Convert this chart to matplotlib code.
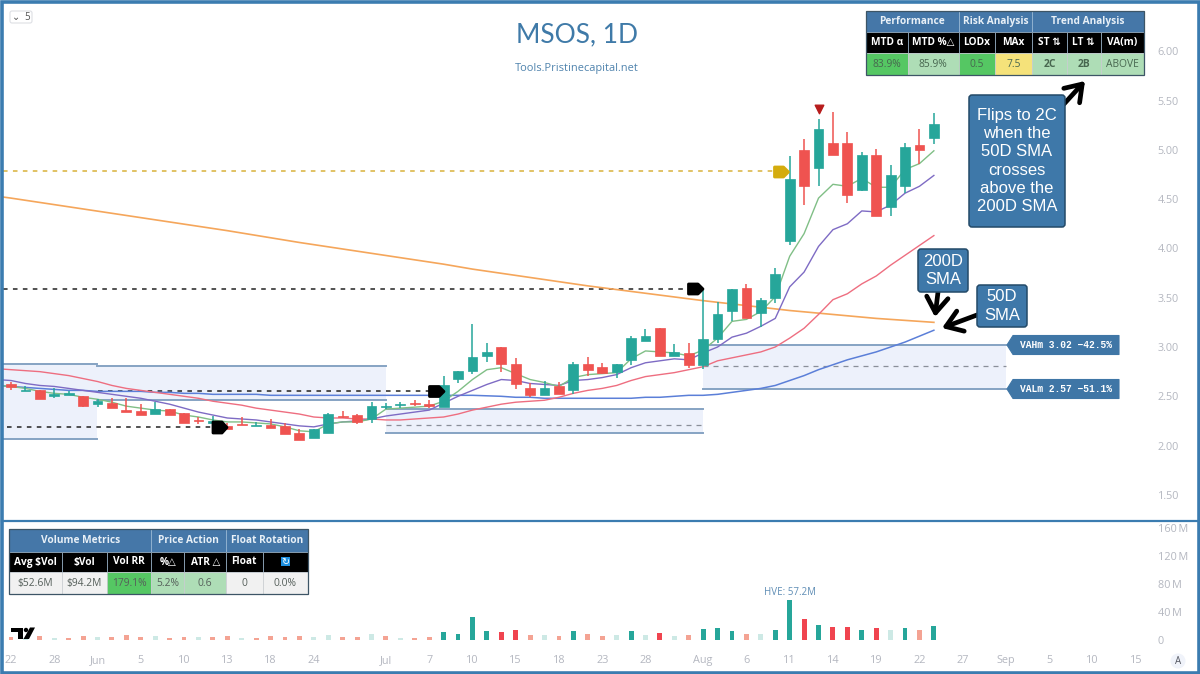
import numpy as np
import matplotlib
matplotlib.use('Agg')
import matplotlib.pyplot as plt
from matplotlib.patches import Rectangle, Polygon, FancyBboxPatch, Circle

plt.rcParams['font.family'] = ['Open Sans', 'DejaVu Sans']

# daily candles, May 22 to Aug 25
opens = [2.62, 2.55, 2.56, 2.50, 2.51, 2.50, 2.42, 2.43, 2.36, 2.35, 2.32, 2.37, 2.33, 2.26, 2.23, 2.20, 2.22, 2.20, 2.21, 2.20,
         2.13, 2.08, 2.13, 2.30, 2.31, 2.27, 2.39, 2.41, 2.43, 2.42, 2.39, 2.68, 2.76, 2.91, 3.00, 2.83, 2.58, 2.51, 2.60, 2.56,
         2.83, 2.80, 2.75, 2.87, 3.06, 3.19, 2.91, 2.94, 2.82, 3.08, 3.37, 3.60, 3.34, 3.50, 4.07, 5.00, 4.82, 5.07, 5.07, 4.59,
         4.95, 4.42, 4.63, 5.05, 5.12]
closes = [2.59, 2.56, 2.47, 2.52, 2.53, 2.40, 2.45, 2.38, 2.34, 2.31, 2.37, 2.31, 2.23, 2.25, 2.25, 2.17, 2.21, 2.21, 2.18, 2.12,
          2.06, 2.17, 2.32, 2.29, 2.24, 2.40, 2.40, 2.42, 2.42, 2.40, 2.61, 2.76, 2.90, 2.95, 2.83, 2.62, 2.51, 2.58, 2.52, 2.83,
          2.77, 2.74, 2.83, 3.09, 3.11, 2.91, 2.95, 2.82, 3.08, 3.33, 3.59, 3.29, 3.48, 3.74, 4.70, 4.63, 5.21, 4.95, 4.54, 4.95,
          4.33, 4.74, 5.03, 5.00, 5.26]
highs = [2.65, 2.60, 2.56, 2.58, 2.55, 2.50, 2.47, 2.48, 2.48, 2.42, 2.44, 2.37, 2.33, 2.29, 2.30, 2.23, 2.29, 2.24, 2.27, 2.23,
         2.17, 2.17, 2.33, 2.35, 2.32, 2.44, 2.43, 2.44, 2.46, 2.46, 2.71, 2.76, 3.23, 3.04, 3.00, 2.89, 2.63, 2.66, 2.64, 2.85,
         2.90, 2.84, 2.83, 3.11, 3.18, 3.19, 3.03, 3.04, 3.59, 3.46, 3.59, 3.64, 3.50, 3.80, 4.94, 5.11, 5.31, 5.38, 5.18, 4.98,
         5.01, 4.85, 5.07, 5.21, 5.37]
lows = [2.56, 2.55, 2.47, 2.48, 2.51, 2.39, 2.39, 2.38, 2.34, 2.31, 2.32, 2.31, 2.23, 2.22, 2.23, 2.17, 2.21, 2.20, 2.18, 2.12,
        2.06, 2.08, 2.13, 2.28, 2.22, 2.23, 2.37, 2.38, 2.40, 2.38, 2.39, 2.63, 2.73, 2.85, 2.75, 2.57, 2.49, 2.51, 2.52, 2.52,
        2.71, 2.73, 2.69, 2.82, 3.06, 2.91, 2.91, 2.79, 2.78, 3.04, 3.26, 3.29, 3.20, 3.45, 4.03, 4.44, 4.63, 4.95, 4.46, 4.58,
        4.33, 4.33, 4.56, 4.86, 5.06]

# moving averages, first value sits just left of the first candle
ema_fast = [2.61, 2.60, 2.58, 2.55, 2.53, 2.52, 2.49, 2.47, 2.44, 2.40, 2.38, 2.36, 2.35, 2.31, 2.29, 2.26, 2.24, 2.24, 2.23, 2.22, 2.19,
            2.15, 2.14, 2.22, 2.24, 2.24, 2.27, 2.37, 2.38, 2.39, 2.40, 2.45, 2.55, 2.67, 2.77, 2.79, 2.73, 2.67, 2.64, 2.60, 2.69,
            2.72, 2.73, 2.74, 2.88, 2.96, 2.95, 2.94, 2.91, 2.97, 3.09, 3.26, 3.28, 3.36, 3.51, 3.92, 4.15, 4.51, 4.65, 4.63, 4.71,
            4.62, 4.62, 4.80, 4.86, 4.99]
ema_mid = [2.67, 2.66, 2.63, 2.61, 2.60, 2.58, 2.56, 2.54, 2.52, 2.50, 2.48, 2.45, 2.42, 2.38, 2.34, 2.31, 2.28, 2.27, 2.26, 2.24, 2.22,
           2.20, 2.19, 2.22, 2.24, 2.25, 2.27, 2.30, 2.32, 2.34, 2.36, 2.43, 2.50, 2.56, 2.62, 2.67, 2.66, 2.63, 2.62, 2.61, 2.66,
           2.67, 2.69, 2.72, 2.79, 2.84, 2.86, 2.88, 2.87, 2.94, 3.00, 3.10, 3.14, 3.21, 3.29, 3.61, 3.76, 4.02, 4.19, 4.25, 4.38,
           4.37, 4.44, 4.56, 4.63, 4.74]
ema_slow = [2.78, 2.77, 2.76, 2.75, 2.73, 2.71, 2.68, 2.65, 2.61, 2.58, 2.56, 2.54, 2.52, 2.50, 2.48, 2.45, 2.43, 2.41, 2.38, 2.36, 2.34,
            2.32, 2.29, 2.28, 2.28, 2.27, 2.27, 2.26, 2.26, 2.27, 2.28, 2.29, 2.32, 2.36, 2.39, 2.42, 2.44, 2.45, 2.46, 2.49, 2.53,
            2.56, 2.58, 2.61, 2.66, 2.70, 2.72, 2.74, 2.77, 2.80, 2.86, 2.89, 2.92, 2.95, 3.00, 3.09, 3.19, 3.33, 3.48, 3.54, 3.64,
            3.72, 3.83, 3.93, 4.03, 4.13]
sma_50 = [2.61, 2.60, 2.59, 2.58, 2.57, 2.56, 2.56, 2.55, 2.55, 2.55, 2.55, 2.54, 2.54, 2.53, 2.53, 2.52, 2.52, 2.52, 2.52, 2.51, 2.51,
          2.51, 2.51, 2.51, 2.51, 2.51, 2.51, 2.51, 2.51, 2.51, 2.51, 2.51, 2.51, 2.51, 2.505, 2.50, 2.49, 2.49, 2.48, 2.48, 2.48,
          2.48, 2.48, 2.48, 2.48, 2.49, 2.49, 2.50, 2.51, 2.51, 2.52, 2.54, 2.56, 2.58, 2.61, 2.66, 2.71, 2.77, 2.82, 2.87, 2.91,
          2.95, 3.00, 3.05, 3.11, 3.17]
sma_200_idx = [-1, 0, 5, 10, 15, 20, 25, 30, 32, 40, 48, 54, 60, 64]
sma_200 = [4.53, 4.51, 4.40, 4.29, 4.18, 4.06, 3.95, 3.84, 3.79, 3.62, 3.47, 3.37, 3.29, 3.25]

# volume in millions, kind: U/D heavy up/down, u/d light up/down
volume = [3.3, 3.0, 5.2, 2.9, 1.9, 4.8, 3.3, 3.3, 6.7, 3.8, 4.8, 2.4, 3.8, 4.3, 3.3, 5.2, 2.9, 1.9, 5.2, 3.3,
          5.2, 3.8, 7.0, 3.8, 3.8, 8.0, 5.2, 1.9, 2.9, 3.8, 11.0, 8.6, 32.9, 11.9, 11.0, 14.3, 7.0, 6.2, 4.8, 12.9,
          8.6, 5.2, 6.2, 12.9, 7.0, 9.5, 5.7, 7.0, 15.2, 16.7, 11.9, 8.6, 8.0, 14.3, 57.2, 30.0, 21.4, 17.6, 17.6, 14.3,
          16.7, 13.8, 16.7, 13.3, 19.0]
vol_kind = list('dududduddduddudduddd' 'duuddududd' 'UUUUDDdudU' 'dduUuDudUU' 'UduUUDUDDU' 'DuUdU')

tick_idx = [0, 3, 6, 9, 12, 15, 18, 21, 26, 29, 32, 35, 38, 41, 44, 48, 51, 54, 57, 60, 63, 66, 69, 72, 75, 78]
tick_labels = ['22', '28', 'Jun', '5', '10', '13', '18', '24', 'Jul', '7', '10', '15', '18', '23', '28', 'Aug', '6', '11',
               '14', '19', '22', '27', 'Sep', '5', '10', '15']
price_ticks = [1.5, 2.0, 2.5, 3.0, 3.5, 4.0, 4.5, 5.0, 5.5, 6.0]
vol_ticks = [0, 40, 80, 120, 160]
vol_tick_labels = ['0', '40\u2009M', '80\u2009M', '120\u2009M', '160\u2009M']

# value area boxes: left bar, right bar, low, high
va_boxes = [(-0.6, 5.96, 2.07, 2.83), (5.96, 26, 2.46, 2.81), (26, 48, 2.13, 2.37), (48, 68.97, 2.57, 3.02)]
# mid dashes of the boxes: left bar, right bar, price
va_mids = [(26, 48, 2.21), (48, 68.97, 2.81)]
# level lines: left bar, right bar, price, colour
levels = [(-0.3, 14, 2.19, '#222222'), (6, 29.6, 2.55, '#222222'), (-0.55, 47, 3.59, '#222222'), (-0.55, 53, 4.78, '#D8B23A')]

top_groups = ['Performance', 'Risk Analysis', 'Trend Analysis']
top_heads = ['MTD α', 'MTD %△', 'LODx', 'MAx', 'ST ⇅', 'LT ⇅', 'VA(m)']
top_vals = ['83.9%', '85.9%', '0.5', '7.5', '2C', '2B', 'ABOVE']
bot_groups = ['Volume Metrics', 'Price Action', 'Float Rotation']
bot_heads = ['Avg $Vol', '$Vol', 'Vol RR', '%△', 'ATR △', 'Float', '']
bot_vals = ['$52.6M', '$94.2M', '179.1%', '5.2%', '0.6', '0', '0.0%']

TEAL = '#26A69A'
RED = '#EF5350'
AXIS_GRAY = '#B4B7C0'
BLUE = '#3F76A6'
W, H = 1200, 674


def axes_px(x0, y0, x1, y1):
    return fig.add_axes([x0 / W, 1 - y1 / H, (x1 - x0) / W, (y1 - y0) / H])


def bar_to_x(px):
    return (px - 11) / 14.42


def y_to_price(py):
    return 3 + (347 - py) * 0.010142


fig = plt.figure(figsize=(12, 6.74), dpi=100, facecolor='white')

# price pane
ax = axes_px(3, 3, 1196, 520)
ax.set_xlim(bar_to_x(3), bar_to_x(1196))
ax.set_ylim(y_to_price(520), y_to_price(3))
for s in ax.spines.values():
    s.set_visible(False)
ax.set_xticks([])
ax.yaxis.tick_right()
ax.set_yticks(price_ticks)
ax.set_yticklabels(['%.2f' % p for p in price_ticks])
ax.tick_params(axis='y', length=0, pad=-27.5, labelsize=7.8, labelcolor=AXIS_GRAY)

for x0, x1, lo, hi in va_boxes:
    ax.add_patch(Rectangle((x0, lo), x1 - x0, hi - lo, fc='#EDF1FB', ec='none', zorder=1))
    ax.plot([x0, x1], [hi, hi], color='#86A3C3', lw=1.4, zorder=1.5)
    ax.plot([x0, x1], [lo, lo], color='#86A3C3', lw=1.4, zorder=1.5)
for x0, x1, p in va_mids:
    ax.plot([x0, x1], [p, p], color='#8A8F99', lw=0.9, dashes=(4, 4), zorder=1.5)
for x0, x1, p, c in levels:
    ax.plot([x0, x1], [p, p], color=c, lw=1.1, dashes=(3, 3.5), zorder=1.6)

line_x = np.arange(-1, 65)
ax.plot(sma_200_idx, sma_200, color='#F5A65B', lw=1.2, zorder=2)
ax.plot(line_x, sma_50, color='#5B7FD8', lw=1.1, zorder=2)
ax.plot(line_x, ema_slow, color='#EE6E80', lw=1.0, zorder=2)
ax.plot(line_x, ema_mid, color='#7E6BC4', lw=1.0, zorder=2)
ax.plot(line_x, ema_fast, color='#80BF86', lw=1.0, zorder=2)

for i in range(len(opens)):
    c = TEAL if closes[i] >= opens[i] else RED
    ax.plot([i, i], [lows[i], highs[i]], color=c, lw=1.1, zorder=3, solid_capstyle='butt')
    ax.bar(i, abs(closes[i] - opens[i]), bottom=min(opens[i], closes[i]), width=0.68, color=c, edgecolor=c, lw=0.5, zorder=3.1)

ax.scatter([56], [5.41], marker='v', s=38, color='#B71C1C', zorder=4)

# volume pane
ax2 = axes_px(3, 522, 1196, 650)
ax2.set_xlim(bar_to_x(3), bar_to_x(1196))
ax2.set_ylim(-14.7, 168.1)
for s in ax2.spines.values():
    s.set_visible(False)
kind_colors = {'U': TEAL, 'D': '#F0444F', 'u': '#CDE9E5', 'd': '#F4A393'}
ax2.bar(range(len(volume)), volume, width=0.34, color=[kind_colors[k] for k in vol_kind])
ax2.set_xticks(tick_idx)
ax2.set_xticklabels(tick_labels)
ax2.tick_params(axis='x', length=0, pad=3.5, labelsize=7.8, labelcolor=AXIS_GRAY)
ax2.yaxis.tick_right()
ax2.set_yticks(vol_ticks)
ax2.set_yticklabels(vol_tick_labels)
ax2.tick_params(axis='y', length=0, pad=-27.5, labelsize=7.8, labelcolor=AXIS_GRAY)
ax2.text(54, 57.2 + 3, 'HVE: 57.2M', ha='center', va='bottom', fontsize=7, color='#5F8DB5')

# overlay in picture pixels for tables, callouts and the frame
ov = fig.add_axes([0, 0, 1, 1], facecolor='none')
ov.set_xlim(0, W)
ov.set_ylim(H, 0)
ov.axis('off')

ov.add_patch(Rectangle((1.5, 1.5), W - 3, H - 3, fc='none', ec='#3B7CB0', lw=2.6))
ov.plot([2, W - 2], [521, 521], color='#3B7CB0', lw=1.6)

ov.text(577, 35, 'MSOS, 1D', ha='center', va='center', fontsize=19, color='#3F7AA8', family=['Lato'])
ov.text(577, 68, 'Tools.Pristinecapital.net', ha='center', va='center', fontsize=7.9, color='#4F83AD')

ov.add_patch(FancyBboxPatch((10, 11), 22, 12, boxstyle='round,pad=0,rounding_size=2', fc='white', ec='#DDDFE4', lw=0.8))
ov.text(16, 17, '⌄', ha='center', va='center', fontsize=7, color='#555555')
ov.text(27, 17, '5', ha='center', va='center', fontsize=7, color='#555555')
ov.add_patch(Circle((1178, 661), 7.5, fc='#F0F3FA', ec='none'))
ov.text(1178, 661, 'A', ha='center', va='center', fontsize=7, color='#555862')


def pentagon(x0, x1, yc, half, color):
    pts = [(x0, yc - half), (x1 - 5, yc - half), (x1, yc), (x1 - 5, yc + half), (x0, yc + half)]
    ov.add_patch(Polygon(pts, closed=True, fc=color, ec=color, lw=2, joinstyle='round', zorder=5))


pentagon(213, 227, 427.5, 5.5, 'black')
pentagon(429.5, 444, 391.5, 5, 'black')
pentagon(688.5, 703, 289, 5, 'black')
pentagon(774.5, 788.5, 172, 5, '#D4AC0D')


def draw_table(xs, y_rows, group_edges, groups, heads, vals, val_colors, val_text):
    for k, name in enumerate(groups):
        x0, x1 = group_edges[k], group_edges[k + 1]
        ov.add_patch(Rectangle((x0, y_rows[0]), x1 - x0, y_rows[1] - y_rows[0], fc='#4577A8', ec='#8FB0CF', lw=0.7, zorder=6))
        ov.text((x0 + x1) / 2, (y_rows[0] + y_rows[1]) / 2, name, ha='center', va='center',
                fontsize=7.3, fontweight='bold', color='#E8F0F7', zorder=7)
    for k in range(len(heads)):
        x0, x1 = xs[k], xs[k + 1]
        ov.add_patch(Rectangle((x0, y_rows[1]), x1 - x0, y_rows[2] - y_rows[1], fc='black', ec='#8FA6BA', lw=0.6, zorder=6))
        ov.text((x0 + x1) / 2, (y_rows[1] + y_rows[2]) / 2, heads[k], ha='center', va='center',
                fontsize=7.3, fontweight='bold', color='white', zorder=7)
        ov.add_patch(Rectangle((x0, y_rows[2]), x1 - x0, y_rows[3] - y_rows[2], fc=val_colors[k], ec='#C8CCD0', lw=0.5, zorder=6))
        weight = 'bold' if vals[k] in ('2C', '2B') else 'normal'
        ov.text((x0 + x1) / 2, (y_rows[2] + y_rows[3]) / 2, vals[k], ha='center', va='center',
                fontsize=7.4, color=val_text, fontweight=weight, zorder=7)
    ov.add_patch(Rectangle((xs[0], y_rows[0]), xs[-1] - xs[0], y_rows[3] - y_rows[0], fc='none', ec='#3D5566', lw=0.9, zorder=8))


GREEN_HI = '#55C763'
GREEN_LO = '#AEDDB6'
NEUTRAL = '#F1F1F1'
top_xs = [866, 907.7, 958.7, 994.7, 1032.3, 1066.7, 1100.7, 1144]
draw_table(top_xs, [11, 32.3, 53.3, 75.3], [866, 958.7, 1032.3, 1144], top_groups, top_heads, top_vals,
           [GREEN_HI, GREEN_LO, GREEN_HI, '#F5E27A', GREEN_LO, GREEN_LO, GREEN_LO], '#47664F')
bot_xs = [9, 61.7, 106.7, 151.3, 184.3, 226, 262.7, 307.7]
draw_table(bot_xs, [529.3, 551.7, 572.3, 594.3], [9, 151.3, 226, 307.7], bot_groups, bot_heads, bot_vals,
           [NEUTRAL, NEUTRAL, GREEN_HI, GREEN_LO, GREEN_LO, NEUTRAL, NEUTRAL], '#555F5A')
ov.add_patch(Rectangle((280.5, 557), 9, 9, fc='#1E90E0', ec='none', zorder=9))
ov.text(285, 561.5, '↻', ha='center', va='center', fontsize=7, color='white', zorder=10, family=['DejaVu Sans'])

# tradingview mark
ov.add_patch(Polygon([(11, 627.5), (23, 627.5), (23, 639), (17.5, 639), (17.5, 632), (11, 632)], fc='black', ec='none', zorder=5))
ov.add_patch(Circle((26, 630), 2.2, fc='black', ec='none', zorder=5))
ov.add_patch(Polygon([(30, 627.5), (35, 627.5), (29, 639), (23.5, 639)], fc='black', ec='none', zorder=5))

# value area tags
for yc, label in [(345, 'VAHm 3.02 −42.5%'), (389, 'VALm 2.57 −51.1%')]:
    ov.add_patch(Polygon([(1007, yc), (1013, yc - 9.5), (1119, yc - 9.5), (1119, yc + 9.5), (1013, yc + 9.5)], fc=BLUE, ec=BLUE,
                         lw=0.8, joinstyle='round', zorder=5))
    ov.text(1066, yc, label, ha='center', va='center', fontsize=6.9, fontweight='bold', family=['Liberation Mono'],
            color='white', zorder=6)


def callout(x0, y0, x1, y1, text):
    ov.add_patch(FancyBboxPatch((x0, y0), x1 - x0, y1 - y0, boxstyle='round,pad=0,rounding_size=3', fc='#3E78A9', ec='#234A68',
                                lw=1.1, zorder=6))
    ov.text((x0 + x1) / 2, (y0 + y1) / 2, text, ha='center', va='center', fontsize=12, color='white', linespacing=1.27,
            family=['Liberation Sans'], zorder=7)


def arrow(x0, y0, x1, y1):
    ov.annotate('', xy=(x1, y1), xytext=(x0, y0), zorder=6,
                arrowprops=dict(arrowstyle='->,head_length=0.8,head_width=0.55', color='black', lw=3.4, shrinkA=0, shrinkB=0,
                                mutation_scale=14))


arrow(1064, 104, 1085, 81)
arrow(938, 292, 935, 317)
arrow(977, 315, 942, 328)
callout(969, 95, 1065, 227, 'Flips to 2C\nwhen the\n50D SMA\ncrosses\nabove the\n200D SMA')
callout(918, 249, 968, 292, '200D\nSMA')
callout(977, 285, 1027, 327, '50D\nSMA')

fig.savefig('out.png', dpi=100)
